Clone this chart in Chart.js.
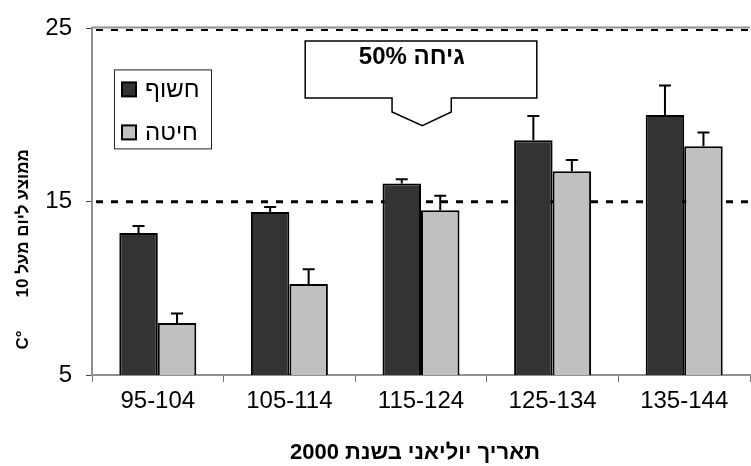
<!DOCTYPE html>
<html>
<head>
<meta charset="utf-8">
<script src="https://cdn.jsdelivr.net/npm/chart.js@4"></script>
<style>
body { margin: 0; background: #fff; }
#wrap { width: 751px; height: 466px; }
</style>
</head>
<body>
<div id="wrap"><canvas id="chart"></canvas></div>
<script>
const categories = ['95-104', '105-114', '115-124', '125-134', '135-144'];
const seriesNames = ['חשוף', 'חיטה'];
const exposedValues = [13.2, 14.4, 16.05, 18.55, 20.0];
const exposedErrors = [0.4, 0.3, 0.25, 1.4, 1.7];
const wheatValues = [8.0, 10.25, 14.5, 16.75, 18.2];
const wheatErrors = [0.55, 0.85, 0.85, 0.65, 0.8];
const yTicks = [5, 15, 25];
const refLines = [15, 25];
const xTitle = 'תאריך יוליאני בשנת 2000';
const yTitle = 'ממוצע ליום מעל 10       °C';
const calloutText = '50% גיחה';

const FONT = "'Liberation Sans', Arial, sans-serif";

// callout box, in category / value units
const callout = { cat: 2, halfWidth: 0.88, top: 24.28, bottom: 20.98, neckL: -0.22, neckR: 0.23, neckBottom: 20.18, tip: 19.38, textY: 23.35 };

const decorations = {
    id: 'decorations',
    beforeDatasetsDraw(chart) {
        const { ctx, chartArea, scales: { y } } = chart;
        ctx.save();
        // grey frame line on top
        ctx.strokeStyle = '#909090';
        ctx.lineWidth = 2;
        ctx.beginPath();
        ctx.moveTo(chartArea.left, chartArea.top - 1);
        ctx.lineTo(chartArea.right, chartArea.top - 1);
        ctx.stroke();
        // dotted reference lines
        ctx.strokeStyle = '#000';
        ctx.setLineDash([7, 8]);
        refLines.forEach(v => {
            const py = y.getPixelForValue(v);
            const top = v === y.max;
            ctx.lineWidth = top ? 2 : 3;
            ctx.beginPath();
            ctx.moveTo(chartArea.left + 4, top ? py + 1.5 : py);
            ctx.lineTo(chartArea.right, top ? py + 1.5 : py);
            ctx.stroke();
        });
        ctx.restore();
    },
    afterDatasetsDraw(chart) {
        const { ctx, chartArea, scales: { x, y } } = chart;
        ctx.save();

        // error bars (upper only)
        ctx.strokeStyle = '#000';
        ctx.lineWidth = 2;
        chart.data.datasets.forEach((ds, di) => {
            const meta = chart.getDatasetMeta(di);
            meta.data.forEach((bar, i) => {
                const y0 = y.getPixelForValue(ds.data[i]);
                const y1 = y.getPixelForValue(ds.data[i] + ds.errors[i]);
                ctx.beginPath();
                ctx.moveTo(bar.x, y0);
                ctx.lineTo(bar.x, y1);
                ctx.moveTo(bar.x - 6, y1);
                ctx.lineTo(bar.x + 6, y1);
                ctx.stroke();
            });
        });

        // legend box
        const lx = chartArea.left + 22, ly = chartArea.top + 41;
        ctx.fillStyle = '#fff';
        ctx.fillRect(lx, ly, 97, 79);
        ctx.strokeStyle = '#222';
        ctx.lineWidth = 1;
        ctx.strokeRect(lx + 0.5, ly + 0.5, 97, 79);
        chart.data.datasets.forEach((ds, di) => {
            const sy = ly + 13 + di * 43;
            ctx.fillStyle = ds.backgroundColor;
            ctx.fillRect(lx + 8, sy, 14, 14);
            ctx.strokeStyle = '#000';
            ctx.lineWidth = 2;
            ctx.strokeRect(lx + 8, sy, 14, 14);
            ctx.fillStyle = '#000';
            ctx.font = '24px ' + FONT;
            ctx.textAlign = 'left';
            ctx.textBaseline = 'middle';
            ctx.fillText(ds.label, lx + 31, sy + 8);
        });

        // callout
        const cx = c => x.getPixelForValue(callout.cat + c);
        const pts = [
            [cx(-callout.halfWidth), y.getPixelForValue(callout.top)],
            [cx(callout.halfWidth), y.getPixelForValue(callout.top)],
            [cx(callout.halfWidth), y.getPixelForValue(callout.bottom)],
            [cx(callout.neckR), y.getPixelForValue(callout.bottom)],
            [cx(callout.neckR), y.getPixelForValue(callout.neckBottom)],
            [cx(0.01), y.getPixelForValue(callout.tip)],
            [cx(callout.neckL), y.getPixelForValue(callout.neckBottom)],
            [cx(callout.neckL), y.getPixelForValue(callout.bottom)],
            [cx(-callout.halfWidth), y.getPixelForValue(callout.bottom)]
        ];
        ctx.beginPath();
        pts.forEach((p, i) => i ? ctx.lineTo(p[0], p[1]) : ctx.moveTo(p[0], p[1]));
        ctx.closePath();
        ctx.fillStyle = '#fff';
        ctx.fill();
        ctx.strokeStyle = '#000';
        ctx.lineWidth = 1.5;
        ctx.stroke();
        ctx.fillStyle = '#000';
        ctx.font = 'bold 24px ' + FONT;
        ctx.textAlign = 'center';
        ctx.textBaseline = 'middle';
        ctx.fillText(calloutText, cx(-0.07), y.getPixelForValue(callout.textY));

        ctx.restore();
    },
    afterDraw(chart) {
        const { ctx, chartArea, scales: { y } } = chart;
        ctx.save();
        ctx.fillStyle = '#000';
        ctx.textAlign = 'center';
        ctx.textBaseline = 'middle';
        ctx.font = 'bold 22px ' + FONT;
        ctx.fillText(xTitle, (chartArea.left + chartArea.right) / 2 - 6, chart.height - 13);

        ctx.translate(23, y.getPixelForValue(12.25));
        ctx.rotate(-Math.PI / 2);
        ctx.direction = 'rtl';
        ctx.font = 'bold 17px ' + FONT;
        ctx.fillText(yTitle, 0, 0);
        ctx.restore();
    }
};

new Chart(document.getElementById('chart'), {
    type: 'bar',
    data: {
        labels: categories,
        datasets: [
            {
                label: seriesNames[0],
                data: exposedValues,
                errors: exposedErrors,
                backgroundColor: '#333333',
                borderColor: '#000',
                borderWidth: 2,
                borderSkipped: false
            },
            {
                label: seriesNames[1],
                data: wheatValues,
                errors: wheatErrors,
                backgroundColor: '#c0c0c0',
                borderColor: '#000',
                borderWidth: 2,
                borderSkipped: false
            }
        ]
    },
    options: {
        responsive: true,
        maintainAspectRatio: false,
        animation: false,
        layout: { padding: { top: 25, right: 1 } },
        datasets: {
            bar: { categoryPercentage: 0.585, barPercentage: 1 }
        },
        scales: {
            x: {
                grid: {
                    offset: true,
                    drawOnChartArea: false,
                    tickLength: 7,
                    tickColor: '#707070',
                    tickWidth: 1
                },
                border: { color: '#909090', width: 2 },
                ticks: {
                    color: '#000',
                    font: { family: FONT, size: 24 },
                    padding: 5
                },
                afterFit(scale) { scale.height = 91; }
            },
            y: {
                min: 5,
                max: 25,
                afterBuildTicks(scale) { scale.ticks = yTicks.map(v => ({ value: v })); },
                grid: {
                    drawOnChartArea: false,
                    tickLength: 6,
                    tickColor: '#404040',
                    tickWidth: 1
                },
                border: { color: '#909090', width: 2 },
                ticks: {
                    color: '#000',
                    font: { family: FONT, size: 24 },
                    padding: 14
                },
                afterFit(scale) { scale.width = 92; }
            }
        },
        plugins: {
            legend: { display: false },
            tooltip: { enabled: false }
        }
    },
    plugins: [decorations]
});
</script>
</body>
</html>
